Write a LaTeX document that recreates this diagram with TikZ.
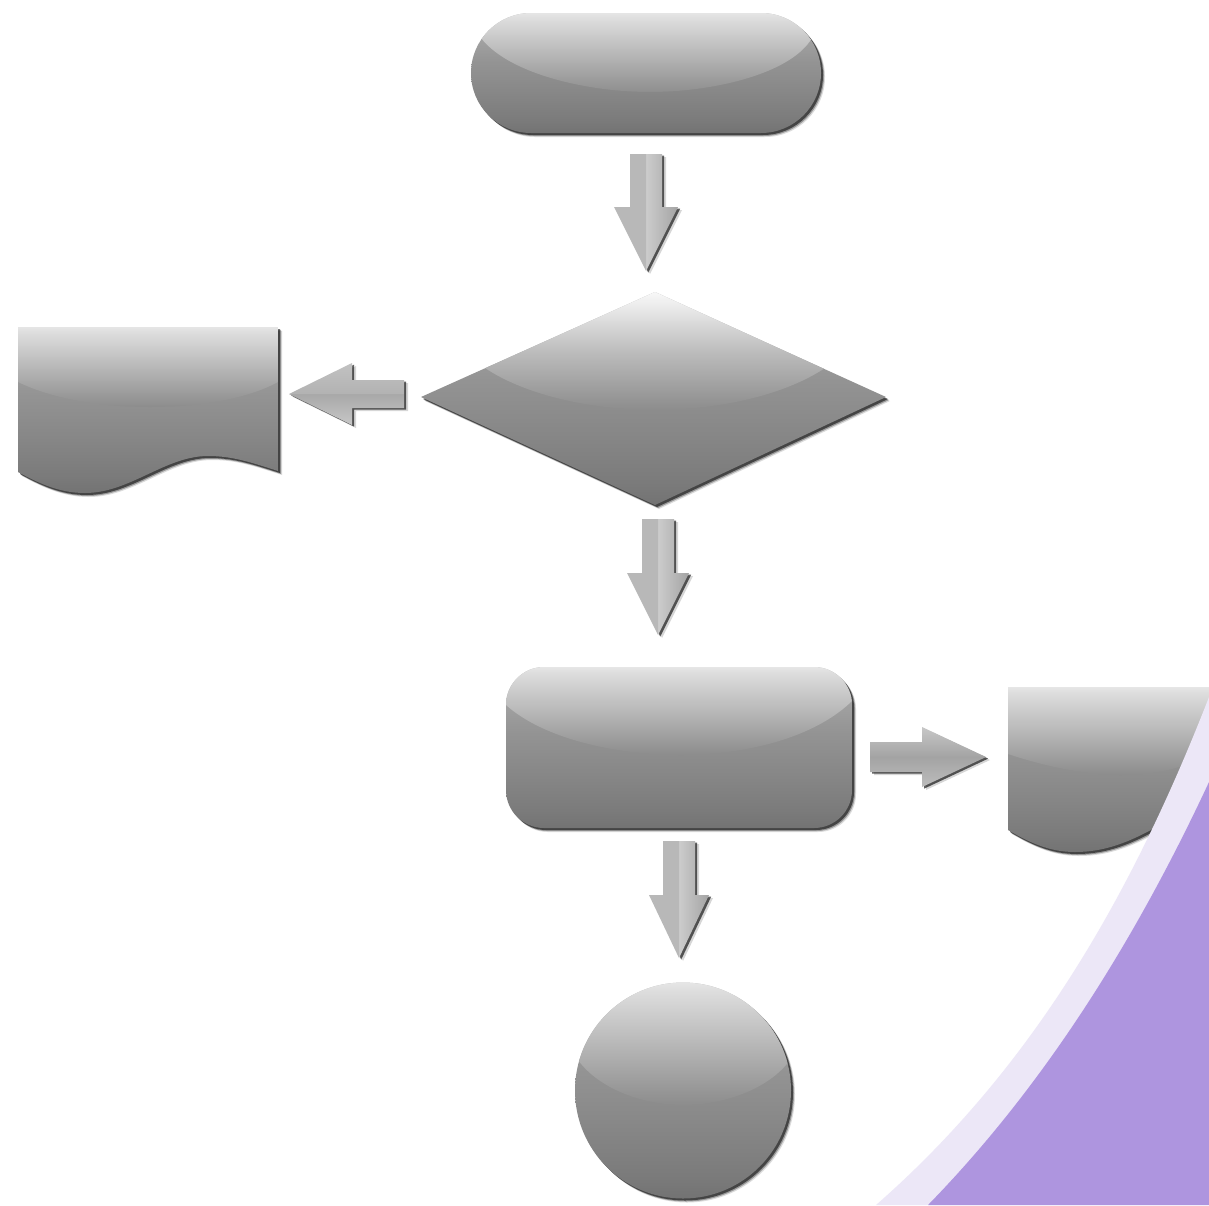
\documentclass[tikz,border=0pt]{standalone}
\pgfdeclareverticalshading{basegray}{100bp}{rgb(0bp)=(.45,.45,.45); rgb(25bp)=(.45,.45,.45); rgb(30bp)=(.48,.48,.48); rgb(42bp)=(.53,.53,.53); rgb(55bp)=(.58,.58,.58); rgb(65bp)=(.64,.64,.64); rgb(75bp)=(.72,.72,.72); rgb(100bp)=(.72,.72,.72)}
\pgfdeclareverticalshading{glossgray}{100bp}{rgb(0bp)=(.55,.55,.55); rgb(25bp)=(.55,.55,.55); rgb(50bp)=(.72,.72,.72); rgb(72bp)=(.87,.87,.87); rgb(75bp)=(.9,.9,.9); rgb(100bp)=(.9,.9,.9)}
\pgfdeclareverticalshading{glosswhite}{100bp}{rgb(0bp)=(.55,.55,.55); rgb(25bp)=(.55,.55,.55); rgb(50bp)=(.74,.74,.74); rgb(70bp)=(.93,.93,.93); rgb(75bp)=(.97,.97,.97); rgb(100bp)=(.97,.97,.97)}
\definecolor{bandlight}{HTML}{ECE7F7}
\definecolor{banddark}{HTML}{AE95DF}
\tikzset{
  flatA/.style={fill=black!28},
  downhalf/.style={left color=black!20,right color=black!36},
  lefthi/.style={top color=black!24,bottom color=black!30},
  leftlo/.style={top color=black!34,bottom color=black!22},
  righthi/.style={top color=black!22,bottom color=black!36},
  rightlo/.style={top color=black!36,bottom color=black!26}
}
% #1 shape, #2 closed gloss region, #3-#6 shape box, #7 gloss bottom, #8 gloss shading
\newcommand{\glassy}[8]{%
  \begin{scope}[shift={(4,4)}]\fill[black,opacity=.14] #1;\end{scope}
  \begin{scope}[shift={(3,3)}]\fill[black,opacity=.30] #1;\end{scope}
  \begin{scope}[shift={(2,2)}]\fill[black,opacity=.55] #1;\end{scope}
  \begin{scope}
    \clip #1;
    \shade[shading=basegray] (#3,#4) rectangle (#5,#6);
    \clip #2;
    \shade[shading=#8] (#3,#4) rectangle (#5,#7);
  \end{scope}
}
% block arrow along local +x: #1 x, #2 y, #3 rotation, #4 length, #5 head start, #6 half shaft, #7 half head, #8 style of side -y, #9 style of side +y
\newcommand{\blockarrow}[9]{%
  \begin{scope}[shift={(#1+4,#2+3)},rotate=#3]
    \fill[black,opacity=.16] (0,-#6) -- (#5,-#6) -- (#5,-#7) -- (#4,0) -- (#5,#7) -- (#5,#6) -- (0,#6) -- cycle;
  \end{scope}
  \begin{scope}[shift={(#1+2.2,#2+1.6)},rotate=#3]
    \fill[black,opacity=.62] (0,-#6) -- (#5,-#6) -- (#5,-#7) -- (#4,0) -- (#5,#7) -- (#5,#6) -- (0,#6) -- cycle;
  \end{scope}
  \begin{scope}[shift={(#1,#2)},rotate=#3]
    \path[#8] (0,0) -- (0,-#6) -- (#5,-#6) -- (#5,-#7) -- (#4,0) -- cycle;
    \path[#9] (0,0) -- (0,#6) -- (#5,#6) -- (#5,#7) -- (#4,0) -- cycle;
  \end{scope}
}
\begin{document}
\begin{tikzpicture}[x=1pt,y=-1pt]
\useasboundingbox (0,0) rectangle (1209,1205);
\fill[white] (0,0) rectangle (1209,1205);
% start pill
\glassy{[rounded corners=60pt] (471,13) rectangle (821,133)}
  {(481,38) .. controls (510,75) and (590,92) .. (650,92) .. controls (710,92) and (790,75) .. (812,38) -- (830,0) -- (460,0) -- cycle}
  {471}{13}{821}{133}{94}{glossgray}
% diamond
\glassy{(421,397) -- (655,292) -- (886,397) -- (655,505) -- cycle}
  {(485,368) .. controls (530,398) and (600,410) .. (655,410) .. controls (710,410) and (780,398) .. (825,368) -- (825,280) -- (485,280) -- cycle}
  {421}{292}{886}{505}{410}{glosswhite}
% left document
\glassy{(18,327) -- (278,327) -- (278,471) .. controls (250,462) and (232,456) .. (208,456) .. controls (165,456) and (130,493) .. (85,493) .. controls (60,493) and (40,484) .. (18,472) -- cycle}
  {(18,382) .. controls (55,400) and (105,407) .. (150,407) .. controls (195,407) and (245,400) .. (278,382) -- (278,320) -- (18,320) -- cycle}
  {18}{327}{278}{493}{407}{glossgray}
% process box
\glassy{[rounded corners=38pt] (506,667) rectangle (852,828)}
  {(506,705) .. controls (545,740) and (620,755) .. (680,755) .. controls (745,755) and (815,738) .. (853,700) -- (870,650) -- (490,650) -- cycle}
  {506}{667}{852}{828}{755}{glossgray}
% right document
\glassy{(1008,687) -- (1209,687) -- (1209,790) -- (1160,825) .. controls (1130,842) and (1105,852) .. (1075,852) .. controls (1050,852) and (1030,843) .. (1008,830) -- cycle}
  {(1008,754) .. controls (1050,768) and (1090,775) .. (1120,775) .. controls (1150,775) and (1180,770) .. (1209,755) -- (1209,680) -- (1008,680) -- cycle}
  {1008}{687}{1209}{852}{775}{glossgray}
% end circle
\glassy{(683,1090.5) circle [radius=108]}
  {(578,1060) .. controls (600,1090) and (645,1105) .. (683,1105) .. controls (722,1105) and (768,1090) .. (790,1060) -- (800,970) -- (570,970) -- cycle}
  {575}{982.5}{791}{1198.5}{1105}{glossgray}
% block arrows
\blockarrow{646}{154}{-90}{117}{53}{16}{32}{downhalf}{flatA}
\blockarrow{658}{519}{-90}{116}{54}{16}{31}{downhalf}{flatA}
\blockarrow{679}{841}{-90}{117}{54}{16}{30}{downhalf}{flatA}
\blockarrow{404}{394}{180}{115}{52}{14}{31}{leftlo}{lefthi}
\blockarrow{870}{757}{0}{116}{52}{15}{30}{righthi}{rightlo}
% corner swoosh
\fill[bandlight] (1209,697) .. controls (1130,900) and (1030,1070) .. (876,1205) -- (1209,1205) -- cycle;
\fill[banddark] (1209,782) .. controls (1140,930) and (1050,1080) .. (928,1205) -- (1209,1205) -- cycle;
\end{tikzpicture}
\end{document}
